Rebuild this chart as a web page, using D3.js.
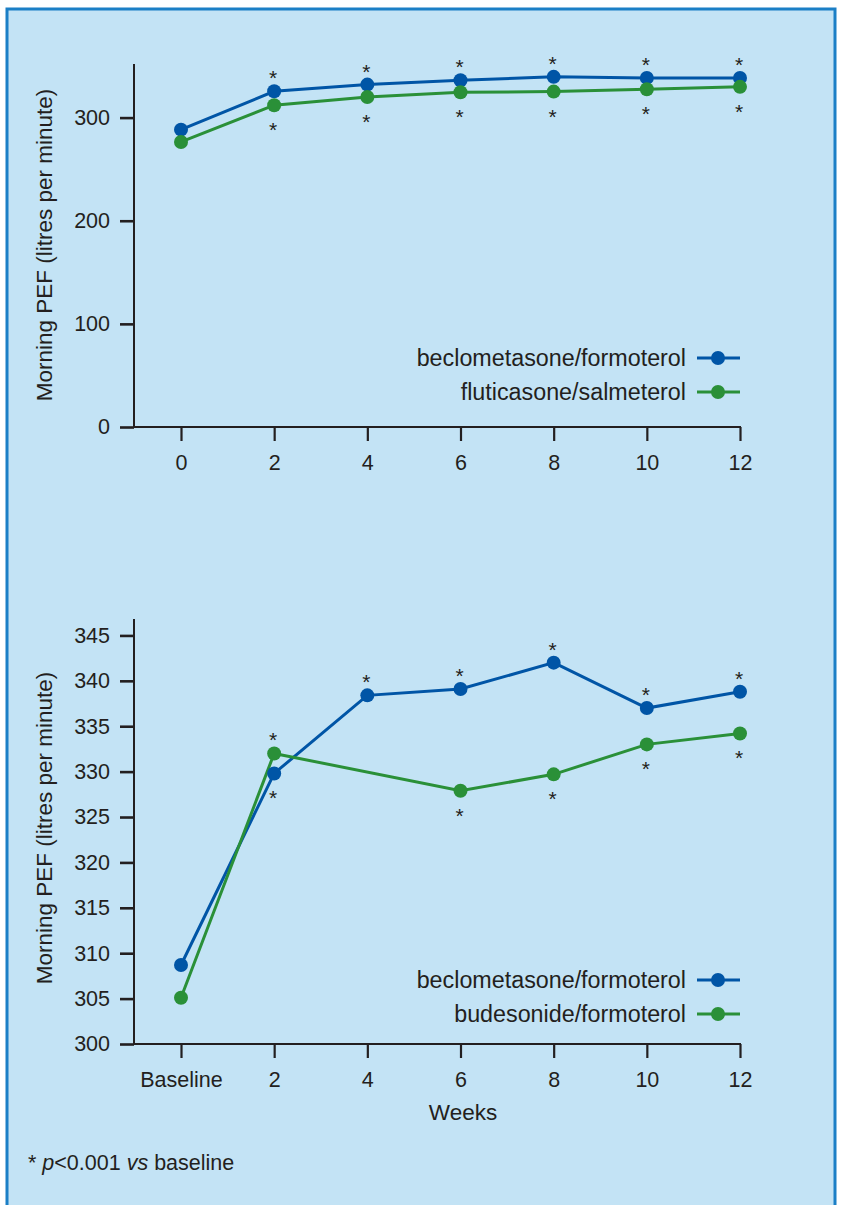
<!DOCTYPE html>
<html><head><meta charset="utf-8">
<script src="https://cdn.jsdelivr.net/npm/d3@7"></script>
<style>
html,body{margin:0;padding:0;background:#fff;}
text{font-family:"Liberation Sans",Arial,Helvetica,sans-serif;fill:#231f20;}
</style></head>
<body><svg id="c" width="841" height="1205"></svg>
<script>
// ---- data ----
const weeks = [0, 2, 4, 6, 8, 10, 12];
const topTickLabels = ["0", "2", "4", "6", "8", "10", "12"];
const bottomTickLabels = ["Baseline", "2", "4", "6", "8", "10", "12"];
const topYTicks = [0, 100, 200, 300];
const bottomYTicks = [300, 305, 310, 315, 320, 325, 330, 335, 340, 345];

const topBeclo = [288.3, 325.5, 332, 336.2, 339.5, 338.5, 338.5];
const topFluti = [276.4, 312, 320, 324.6, 325.2, 327.5, 329.8];
const topBecloStars = [false, true, true, true, true, true, true];   // above
const topFlutiStars = [false, true, true, true, true, true, true];   // below

const botBeclo = [308.7, 329.8, 338.4, 339.1, 342.0, 337.0, 338.8];
const botBude = [305.1, 332.0, null, 327.9, 329.7, 333.0, 334.2];
const botBecloStars = ["", "below", "above", "above", "above", "above", "above"];
const botBudeStars = ["", "above", "", "below", "below", "below", "below"];

const topSeriesNames = ["beclometasone/formoterol", "fluticasone/salmeterol"];
const botSeriesNames = ["beclometasone/formoterol", "budesonide/formoterol"];
const yTitle = "Morning PEF (litres per minute)";
const xTitle = "Weeks";

// ---- styles ----
const BLUE = "#0055a6", GREEN = "#2a9038", INK = "#231f20";
const FONT = '"Liberation Sans",Arial,sans-serif';
const svg = d3.select("#c");

svg.append("rect").attr("x", 7).attr("y", 9).attr("width", 828).attr("height", 1220)
  .attr("fill", "#c3e3f5").attr("stroke", "#1b7fc6").attr("stroke-width", 3);

function panel(opt) {
  const g = svg.append("g");
  const x = d3.scaleLinear().domain([0, 12]).range([181, 740]);
  const y = d3.scaleLinear().domain(opt.yDomain).range(opt.yRange);
  const xAxisY = opt.yRange[0];

  // y axis
  const ya = g.append("g").attr("transform", `translate(134,0)`)
    .call(d3.axisLeft(y).tickValues(opt.yTicks).tickSize(14).tickPadding(10).tickSizeOuter(0));
  ya.select(".domain").remove();
  ya.selectAll("line").attr("stroke", INK).attr("stroke-width", 2.6);
  ya.selectAll("text").attr("font-size", 21.5).style("font-family", FONT).attr("fill", INK);
  g.append("line").attr("x1", 134).attr("x2", 134).attr("y1", opt.yRange[1] - 1).attr("y2", xAxisY + 1)
    .attr("stroke", INK).attr("stroke-width", 2);

  // x axis
  const xa = g.append("g").attr("transform", `translate(0,${xAxisY})`)
    .call(d3.axisBottom(x).tickValues(weeks).tickFormat((d, i) => opt.xLabels[i]).tickSize(14).tickPadding(14).tickSizeOuter(0));
  xa.select(".domain").remove();
  xa.selectAll("line").attr("stroke", INK).attr("stroke-width", 2.2);
  xa.selectAll("text").attr("font-size", 21.5).style("font-family", FONT).attr("fill", INK);
  g.append("line").attr("x1", 133).attr("x2", 741).attr("y1", xAxisY).attr("y2", xAxisY)
    .attr("stroke", INK).attr("stroke-width", 2);

  // y title
  g.append("text").attr("transform", `translate(52,${opt.titleY}) rotate(-90)`)
    .attr("text-anchor", "middle").attr("font-size", 22.5).text(yTitle);

  // series
  opt.series.forEach(s => {
    const pts = weeks.map((w, i) => ({ w, v: s.values[i], star: s.stars[i] })).filter(d => d.v != null);
    g.append("path").datum(pts)
      .attr("d", d3.line().x(d => x(d.w)).y(d => y(d.v)))
      .attr("fill", "none").attr("stroke", s.color).attr("stroke-width", 3);
  });
  opt.series.forEach(s => {
    const pts = weeks.map((w, i) => ({ w, v: s.values[i], star: s.stars[i] })).filter(d => d.v != null);
    g.selectAll(null).data(pts).join("circle")
      .attr("cx", d => x(d.w)).attr("cy", d => y(d.v)).attr("r", 7).attr("fill", s.color);
    g.selectAll(null).data(pts.filter(d => d.star)).join("text")
      .attr("x", d => x(d.w) - 1).attr("y", d => y(d.v) + (d.star === "above" ? -18 : 20) + 12)
      .attr("text-anchor", "middle").attr("font-size", 21).text("*");
  });

  // legend
  opt.series.forEach((s, i) => {
    const ly = opt.legendY + i * 34;
    g.append("text").attr("x", 686).attr("y", ly).attr("dy", "0.35em")
      .attr("text-anchor", "end").attr("font-size", 23.3).text(s.name);
    g.append("line").attr("x1", 697).attr("x2", 740).attr("y1", ly).attr("y2", ly)
      .attr("stroke", s.color).attr("stroke-width", 3);
    g.append("circle").attr("cx", 718).attr("cy", ly).attr("r", 7).attr("fill", s.color);
  });
  return { x, y };
}

panel({
  yDomain: [0, 351], yRange: [427, 65], yTicks: topYTicks, xLabels: topTickLabels, titleY: 245,
  legendY: 358,
  series: [
    { name: topSeriesNames[0], values: topBeclo, stars: topBecloStars.map(b => b ? "above" : ""), color: BLUE },
    { name: topSeriesNames[1], values: topFluti, stars: topFlutiStars.map(b => b ? "below" : ""), color: GREEN }
  ]
});

panel({
  yDomain: [300, 346.7], yRange: [1044, 620], yTicks: bottomYTicks, xLabels: bottomTickLabels, titleY: 828,
  legendY: 980,
  series: [
    { name: botSeriesNames[0], values: botBeclo, stars: botBecloStars, color: BLUE },
    { name: botSeriesNames[1], values: botBude, stars: botBudeStars, color: GREEN }
  ]
});

svg.append("text").attr("x", 463).attr("y", 1120).attr("text-anchor", "middle").attr("font-size", 22.5).text(xTitle);

const foot = svg.append("text").attr("x", 28).attr("y", 1170).attr("font-size", 21.5);
foot.append("tspan").text("* ");
foot.append("tspan").attr("font-style", "italic").text("p");
foot.append("tspan").text("<0.001 ");
foot.append("tspan").attr("font-style", "italic").text("vs");
foot.append("tspan").text(" baseline");
</script></body></html>
